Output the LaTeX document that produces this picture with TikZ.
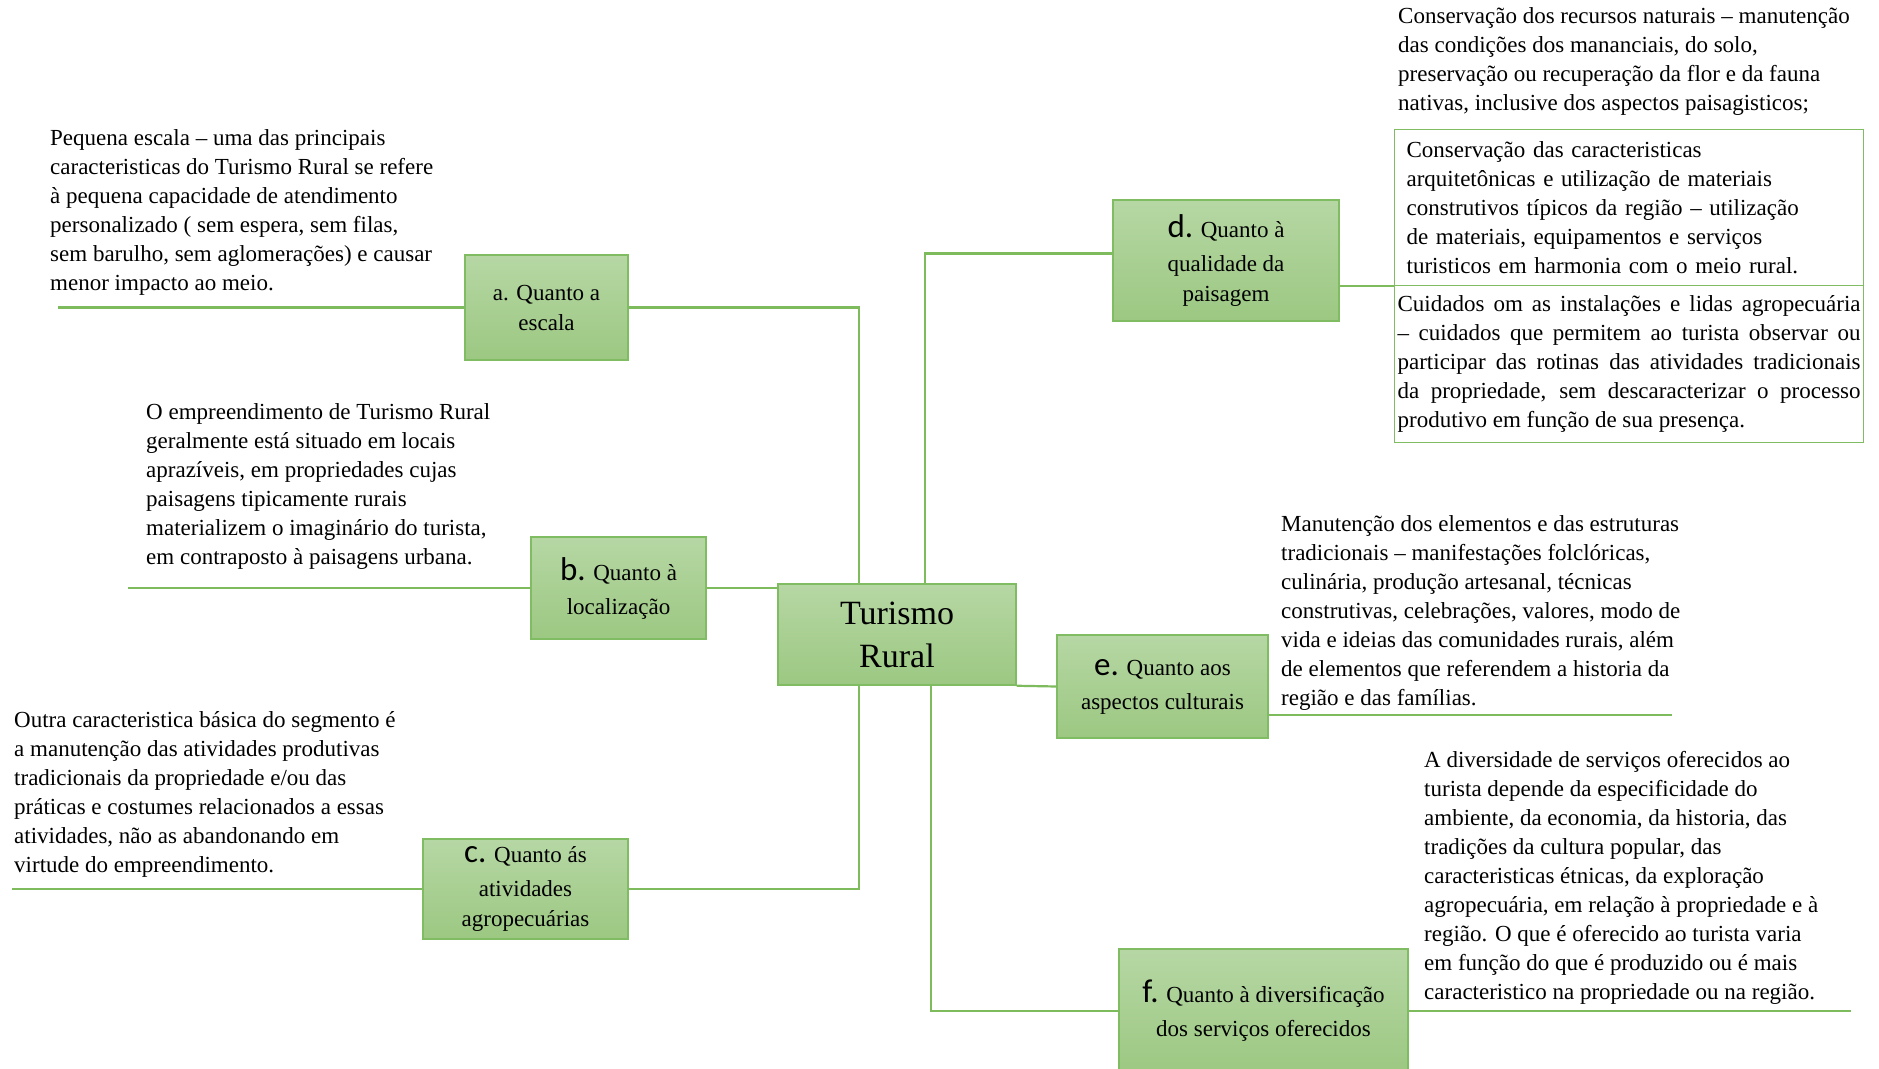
\documentclass[tikz,border=0pt]{standalone}
\usepackage{fontspec}
\setmainfont{Liberation Serif}
\newfontfamily\fonteletra{Carlito}
\usetikzlibrary{calc}

\definecolor{verdelinha}{RGB}{125,187,92}
\definecolor{verdetopo}{RGB}{182,215,164}
\definecolor{verdebase}{RGB}{156,200,130}
\definecolor{verdeborda}{RGB}{128,189,98}

\newcommand{\letra}[1]{{\fonteletra\fontsize{33}{30}\selectfont #1}}
\tolerance=9999
\hyphenpenalty=10000

\begin{document}
\begin{tikzpicture}[x=1pt,y=-1pt,
    caixa/.style={draw=verdeborda, line width=1.5pt, top color=verdetopo, bottom color=verdebase, align=center, inner sep=0pt, font=\fontsize{23}{30}\selectfont},
    texto/.style={anchor=north west, align=left, inner sep=0pt, font=\fontsize{23}{29}\selectfont},
    quadro/.style={draw=verdeborda, line width=1.2pt, anchor=north west, minimum width=469pt, inner ysep=0pt, font=\fontsize{23}{29}\selectfont},
    ramo/.style={verdelinha, line width=2.2pt}]

    \useasboundingbox (0,0) rectangle (1879,1068);

    % centro
    \node[caixa, minimum width=238pt, minimum height=101pt, font=\fontsize{34}{43}\selectfont] (tr) at (897,634.5) {Turismo\\Rural};

    % ramos
    \node[caixa, minimum width=163pt, minimum height=105pt] (a) at (546.5,307.5) {a. Quanto a\\escala};
    \node[caixa, minimum width=175pt, minimum height=102pt] (b) at (618.5,588) {\letra{b.} Quanto à\\[4pt]localização};
    \node[caixa, minimum width=205pt, minimum height=100pt] (c) at (525.5,889) {\letra{c.} Quanto ás\\[4pt]atividades\\agropecuárias};
    \node[caixa, minimum width=226pt, minimum height=121pt] (d) at (1226,260.5) {\letra{d.} Quanto à\\[4pt]qualidade da\\paisagem};
    \node[caixa, minimum width=211pt, minimum height=103pt] (e) at (1162.5,686.5) {\letra{e.} Quanto aos\\[4pt]aspectos culturais};
    \node[caixa, minimum width=289pt, minimum height=124pt] (f) at (1263.5,1011) {\letra{f.} Quanto à diversificação\\[4pt]dos serviços oferecidos};

    % textos
    \node[texto] (ta) at (50,129) {Pequena escala – uma das principais\\caracteristicas do Turismo Rural se refere\\à pequena capacidade de atendimento\\personalizado ( sem espera, sem filas,\\sem barulho, sem aglomerações) e causar\\menor impacto ao meio.};
    \node[texto] (tb) at (146,403) {O empreendimento de Turismo Rural\\geralmente está situado em locais\\aprazíveis, em propriedades cujas\\paisagens tipicamente rurais\\materializem o imaginário do turista,\\em contraposto à paisagens urbana.};
    \node[texto] (tc) at (14,711) {Outra caracteristica básica do segmento é\\a manutenção das atividades produtivas\\tradicionais da propriedade e/ou das\\práticas e costumes relacionados a essas\\atividades, não as abandonando em\\virtude do empreendimento.};
    \node[texto] (tn) at (1398,7) {Conservação dos recursos naturais – manutenção\\das condições dos mananciais, do solo,\\preservação ou recuperação da flor e da fauna\\nativas, inclusive dos aspectos paisagisticos;};
    \node[quadro, minimum height=156pt, inner xsep=12pt, text width=445pt, align=left] (dup) at (1394,129) {Conservação das caracteristicas\\arquitetônicas e utilização de materiais\\construtivos típicos da região – utilização\\de materiais, equipamentos e serviços\\turisticos em harmonia com o meio rural.};
    \node[quadro, minimum height=157pt, inner xsep=3pt, text width=463pt, align=justify] (dlo) at (1394,285) {Cuidados om as instalações e lidas agropecuária\linebreak – cuidados que permitem ao turista observar ou\linebreak participar das rotinas das atividades tradicionais\linebreak da propriedade, sem descaracterizar o processo\linebreak produtivo em função de sua presença.};
    \node[texto] (te) at (1281,515) {Manutenção dos elementos e das estruturas\\tradicionais – manifestações folclóricas,\\culinária, produção artesanal, técnicas\\construtivas, celebrações, valores, modo de\\vida e ideias das comunidades rurais, além\\de elementos que referendem a historia da\\região e das famílias.};
    \node[texto] (tf) at (1424,751) {A diversidade de serviços oferecidos ao\\turista depende da especificidade do\\ambiente, da economia, da historia, das\\tradições da cultura popular, das\\caracteristicas étnicas, da exploração\\agropecuária, em relação à propriedade e à\\região. O que é oferecido ao turista varia\\em função do que é produzido ou é mais\\caracteristico na propriedade ou na região.};

    % pontas livres
    \coordinate (fima) at (58,307.5);
    \coordinate (fimb) at (128,588);
    \coordinate (fimc) at (12,889);
    \coordinate (fime) at (1672,715);
    \coordinate (fimf) at (1851,1011);

    % ligacoes
    \draw[ramo] (a.east) -| ([xshift=82pt]tr.north west);
    \draw[ramo] (a.west) -- (fima);
    \draw[ramo] (b.east) -- (b.east -| tr.west);
    \draw[ramo] (b.west) -- (fimb);
    \draw[ramo] (c.east) -| ([xshift=82pt]tr.south west);
    \draw[ramo] (c.west) -- (fimc);
    \draw[ramo] ([yshift=7pt]d.west) -| ([xshift=148pt]tr.north west);
    \draw[ramo] (d.east |- dup.south) -- (dup.south west);
    \draw[ramo] (tr.south east) -- (e.west);
    \draw[ramo] (e.east |- fime) -- (fime);
    \draw[ramo] (f.west) -| ([xshift=154pt]tr.south west);
    \draw[ramo] (f.east) -- (fimf);

\end{tikzpicture}
\end{document}
